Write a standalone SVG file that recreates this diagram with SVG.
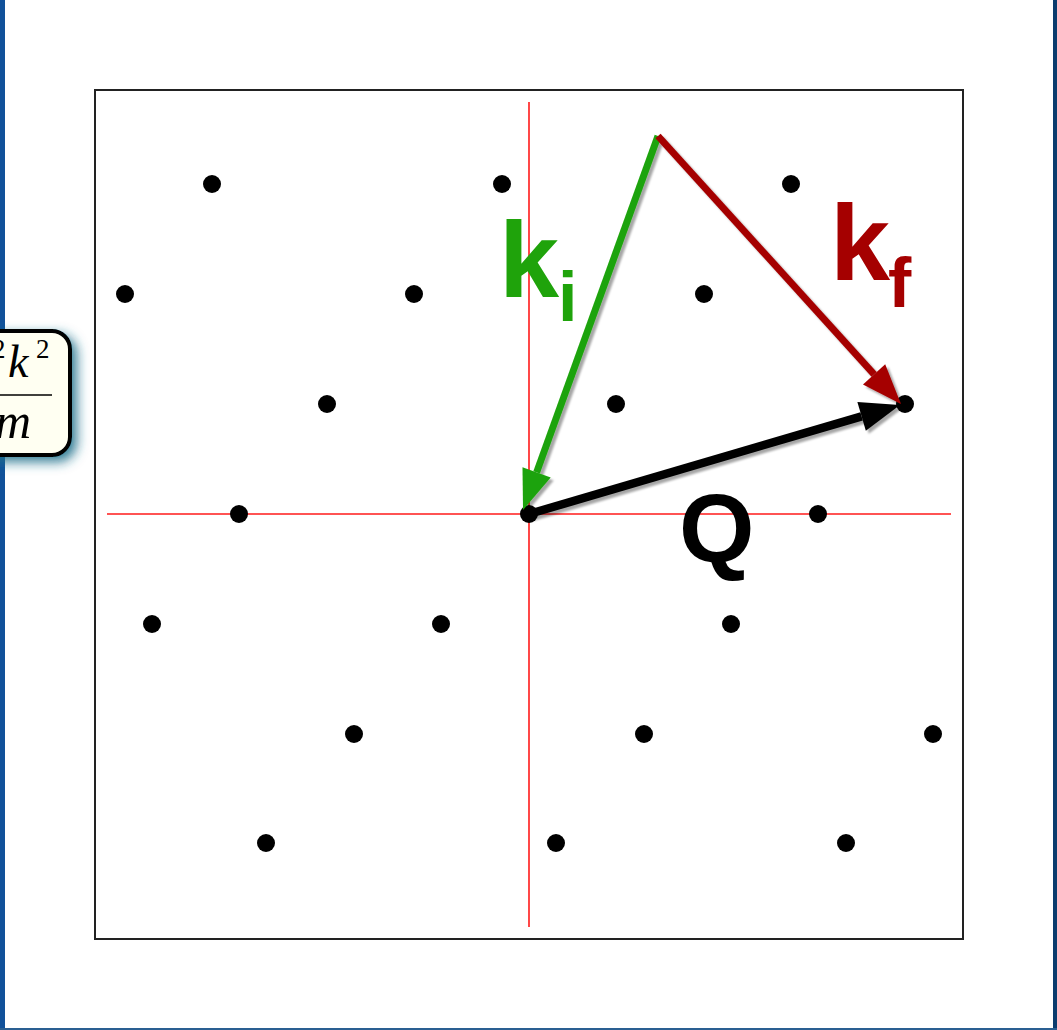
<svg xmlns="http://www.w3.org/2000/svg" width="1057" height="1030" viewBox="0 0 1057 1030">
<defs>
<style>
.dot{fill:#000}
.axis{stroke:#ff1a1a;stroke-width:1.6;fill:none}
.lbl{font-family:"Liberation Sans",Arial,sans-serif;font-weight:bold}
.math{font-family:"Liberation Serif","Times New Roman",serif}
</style>
<filter id="sh" x="-10%" y="-10%" width="130%" height="130%">
<feDropShadow dx="3" dy="3" stdDeviation="1.2" flood-color="#000" flood-opacity="0.35"/>
</filter>
<filter id="glow" x="-50%" y="-50%" width="200%" height="200%">
<feDropShadow dx="5" dy="5" stdDeviation="6" flood-color="#1f6f8a" flood-opacity="0.9"/>
</filter>
<marker id="hg" markerUnits="userSpaceOnUse" markerWidth="44" markerHeight="34" refX="0" refY="15" orient="auto" overflow="visible"><path d="M0,0 L40,15 L0,30 z" fill="#1fa30b"/></marker>
<marker id="hr" markerUnits="userSpaceOnUse" markerWidth="44" markerHeight="34" refX="0" refY="15" orient="auto" overflow="visible"><path d="M0,0 L40,15 L0,30 z" fill="#a50000"/></marker>
<marker id="hb" markerUnits="userSpaceOnUse" markerWidth="44" markerHeight="34" refX="0" refY="15" orient="auto" overflow="visible"><path d="M0,0 L40,15 L0,30 z" fill="#000"/></marker>
</defs>
<rect width="1057" height="1030" fill="#ffffff"/>
<rect x="0" y="0" width="5" height="1030" fill="#11519a"/>
<rect x="1053" y="0" width="4" height="1030" fill="#0b3c6e"/>
<rect x="0" y="1028" width="1057" height="2" fill="#2a5f92"/>

<g id="formula">
<rect x="-30" y="331" width="100" height="124" rx="18" fill="#fffff2" stroke="#000" stroke-width="4" filter="url(#glow)"/>
<text class="math" x="-8" y="358" font-size="27">2</text>
<text class="math" x="8" y="377" font-size="46" font-style="italic">k</text>
<text class="math" x="36" y="358" font-size="27">2</text>
<line x1="0" y1="395" x2="52" y2="395" stroke="#000" stroke-width="1.5"/>
<text class="math" x="-5" y="438" font-size="50" font-style="italic">m</text>
</g>

<g id="frame">
<rect x="95" y="90" width="868" height="849" fill="#fff" stroke="#222" stroke-width="2"/>
</g>

<g id="axes">
<line class="axis" x1="529" y1="102" x2="529" y2="927"/>
<line class="axis" x1="107" y1="514" x2="951" y2="514"/>
</g>

<g id="lattice">
<circle class="dot" cx="212" cy="184" r="9"/><circle class="dot" cx="502" cy="184" r="9"/><circle class="dot" cx="791" cy="184" r="9"/>
<circle class="dot" cx="125" cy="294" r="9"/><circle class="dot" cx="414" cy="294" r="9"/><circle class="dot" cx="704" cy="294" r="9"/>
<circle class="dot" cx="327" cy="404" r="9"/><circle class="dot" cx="616" cy="404" r="9"/><circle class="dot" cx="905" cy="404" r="9"/>
<circle class="dot" cx="239" cy="514" r="9"/><circle class="dot" cx="529" cy="514" r="9"/><circle class="dot" cx="818" cy="514" r="9"/>
<circle class="dot" cx="152" cy="624" r="9"/><circle class="dot" cx="441" cy="624" r="9"/><circle class="dot" cx="731" cy="624" r="9"/>
<circle class="dot" cx="354" cy="734" r="9"/><circle class="dot" cx="644" cy="734" r="9"/><circle class="dot" cx="933" cy="734" r="9"/>
<circle class="dot" cx="266" cy="843" r="9"/><circle class="dot" cx="556" cy="843" r="9"/><circle class="dot" cx="846" cy="843" r="9"/>
</g>

<g id="connectors" filter="url(#sh)">
<line id="ki" x1="658" y1="136" x2="536.6" y2="472.4" stroke="#1fa30b" stroke-width="7" marker-end="url(#hg)"/>
<line id="kf" x1="658" y1="136" x2="874.1" y2="374.4" stroke="#a50000" stroke-width="7" marker-end="url(#hr)"/>
<line id="Q" x1="529" y1="514" x2="861.6" y2="416.3" stroke="#000" stroke-width="8.5" marker-end="url(#hb)"/>
</g>

<g id="labels">
<text class="lbl" x="499" y="297" font-size="108" fill="#1fa30b">k</text>
<text class="lbl" x="558" y="321" font-size="70" fill="#1fa30b">i</text>
<text class="lbl" x="830" y="280" font-size="108" fill="#a50000">k</text>
<text class="lbl" x="888" y="307" font-size="70" fill="#a50000">f</text>
<text class="lbl" x="679" y="562" font-size="97" fill="#000">Q</text>
</g>
</svg>
